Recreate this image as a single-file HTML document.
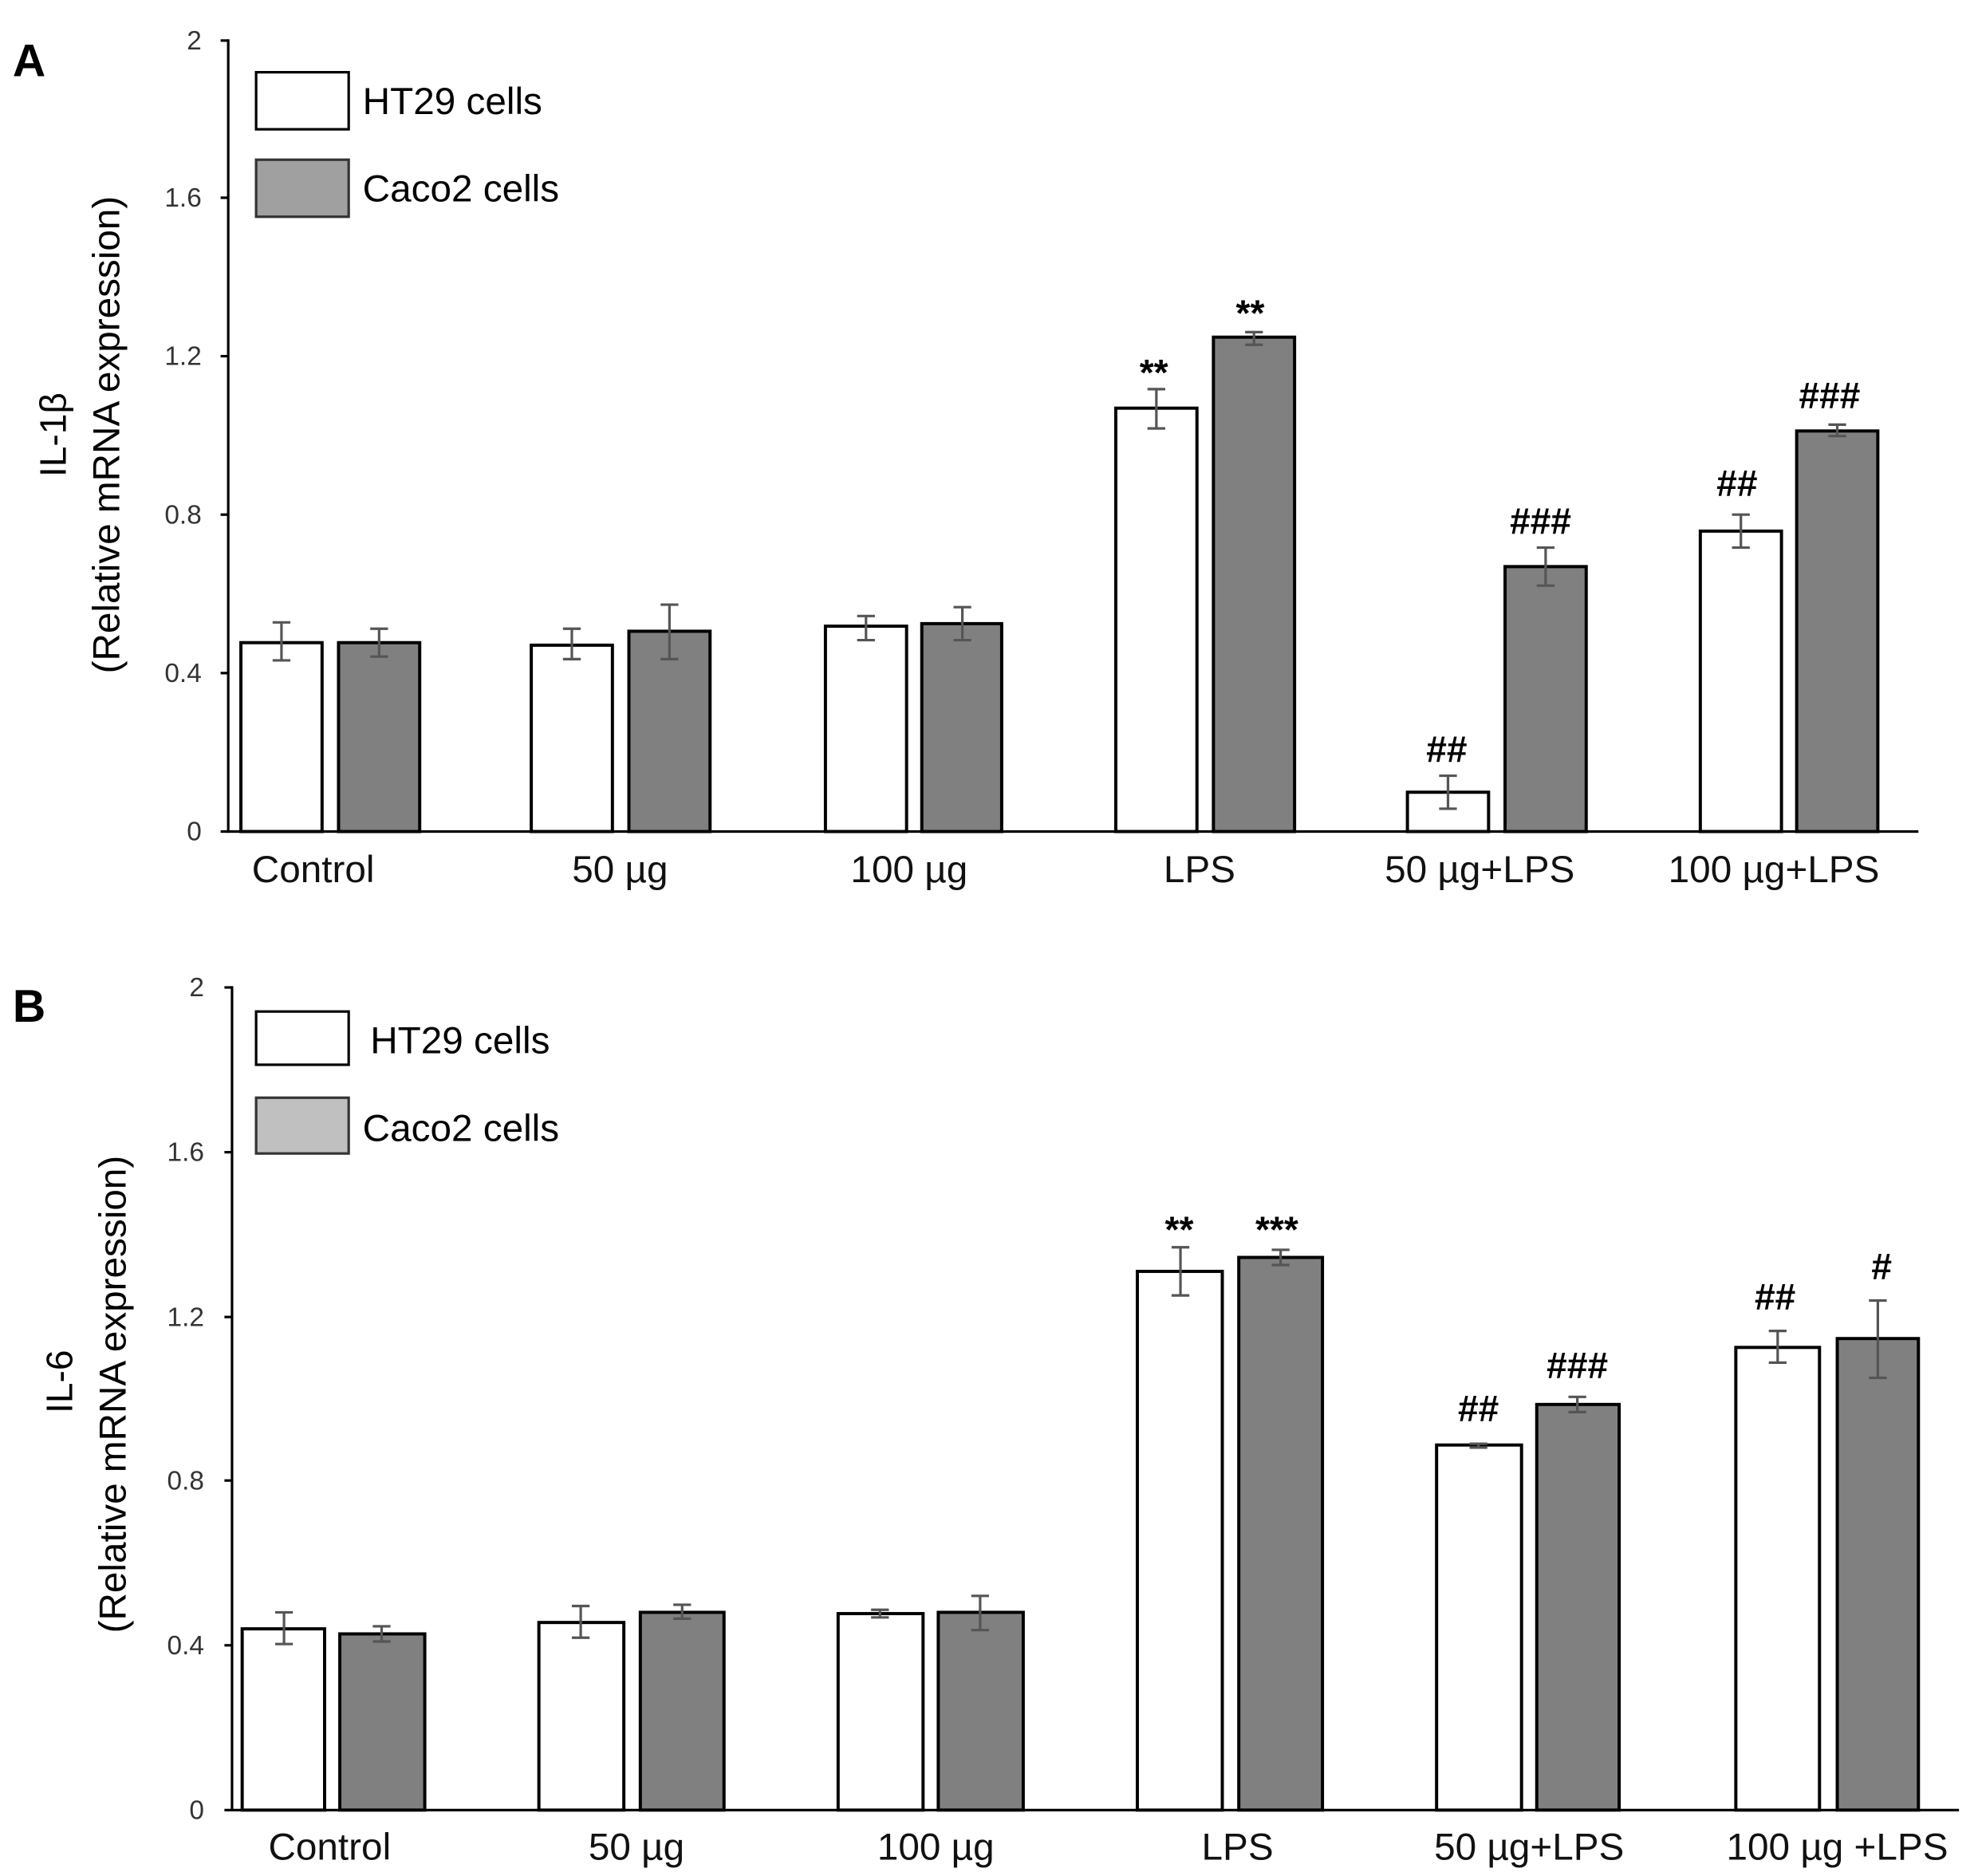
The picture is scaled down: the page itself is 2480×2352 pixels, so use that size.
<!DOCTYPE html>
<html><head><meta charset="utf-8"><style>
html,body{margin:0;padding:0;background:#fff;}
svg{display:block;}
text{font-family:"Liberation Sans","DejaVu Sans",sans-serif;}
</style></head><body>
<svg width="2480" height="2352" viewBox="0 0 1560 1480" preserveAspectRatio="none" xmlns="http://www.w3.org/2000/svg">
<rect width="1560" height="1480" fill="#fff"/>
<!-- ===== Panel A ===== -->
<text x="10" y="60" font-size="36" font-weight="bold">A</text>
<g stroke="#000" stroke-width="2">
<line x1="180" y1="31" x2="180" y2="657"/>
<line x1="174" y1="656" x2="1513" y2="656"/>
<line x1="174" y1="32" x2="180" y2="32"/><line x1="174" y1="156" x2="180" y2="156"/>
<line x1="174" y1="281" x2="180" y2="281"/><line x1="174" y1="406" x2="180" y2="406"/>
<line x1="174" y1="531" x2="180" y2="531"/>
</g>
<g font-size="21" fill="#333" text-anchor="end">
<text x="159" y="39">2</text><text x="159" y="163">1.6</text><text x="159" y="288">1.2</text>
<text x="159" y="413">0.8</text><text x="159" y="538">0.4</text><text x="159" y="663">0</text>
</g>
<text transform="translate(52,343) rotate(-90)" font-size="29" text-anchor="middle">IL-1β</text>
<text transform="translate(94,343) rotate(-90)" font-size="30" text-anchor="middle">(Relative mRNA expression)</text>
<rect x="202" y="57" width="73" height="45" fill="#fff" stroke="#000" stroke-width="2"/>
<rect x="202" y="126" width="73" height="45" fill="#a0a0a0" stroke="#333" stroke-width="2"/>
<text x="286" y="90" font-size="30">HT29 cells</text>
<text x="286" y="159" font-size="30">Caco2 cells</text>
<g stroke="#000" stroke-width="2.5">
<rect x="190" y="507" width="64" height="149" fill="#fff"/><rect x="267" y="507" width="64" height="149" fill="#808080"/>
<rect x="419" y="509" width="64" height="147" fill="#fff"/><rect x="496" y="498" width="64" height="158" fill="#808080"/>
<rect x="651" y="494" width="64" height="162" fill="#fff"/><rect x="727" y="492" width="63" height="164" fill="#808080"/>
<rect x="880" y="322" width="64" height="334" fill="#fff"/><rect x="957" y="266" width="64" height="390" fill="#808080"/>
<rect x="1110" y="625" width="64" height="31" fill="#fff"/><rect x="1187" y="447" width="64" height="209" fill="#808080"/>
<rect x="1341" y="419" width="64" height="237" fill="#fff"/><rect x="1417" y="340" width="64" height="316" fill="#808080"/>
</g>
<g stroke="#555" stroke-width="2" fill="none">
<path d="M222 491V521M215 491H229M215 521H229"/>
<path d="M299 496V518M292 496H306M292 518H306"/>
<path d="M451 496V520M444 496H458M444 520H458"/>
<path d="M528 477V520M521 477H535M521 520H535"/>
<path d="M683 486V505M676 486H690M676 505H690"/>
<path d="M759 479V505M752 479H766M752 505H766"/>
<path d="M912 307V338M905 307H919M905 338H919"/>
<path d="M989 262V272M982 262H996M982 272H996"/>
<path d="M1142 612V638M1135 612H1149M1135 638H1149"/>
<path d="M1219 432V462M1212 432H1226M1212 462H1226"/>
<path d="M1373 406V432M1366 406H1380M1366 432H1380"/>
<path d="M1449 335V344M1442 335H1456M1442 344H1456"/>
</g>
<g font-size="29" font-weight="bold" text-anchor="middle">
<text x="910" y="304">**</text><text x="986" y="257">**</text>
<text x="1141" y="601">##</text><text x="1215" y="421">###</text>
<text x="1370" y="391">##</text><text x="1443" y="322">###</text>
</g>
<g font-size="30" text-anchor="middle" fill="#111">
<text x="247" y="696">Control</text><text x="489" y="696">50 µg</text><text x="717" y="696">100 µg</text>
<text x="946" y="696">LPS</text><text x="1167" y="696">50 µg+LPS</text><text x="1399" y="696">100 µg+LPS</text>
</g>
<!-- ===== Panel B ===== -->
<text x="10" y="806" font-size="36" font-weight="bold">B</text>
<g stroke="#000" stroke-width="2">
<line x1="183" y1="778" x2="183" y2="1429"/>
<line x1="177" y1="1428" x2="1545" y2="1428"/>
<line x1="177" y1="779" x2="183" y2="779"/><line x1="177" y1="909" x2="183" y2="909"/>
<line x1="177" y1="1039" x2="183" y2="1039"/><line x1="177" y1="1168" x2="183" y2="1168"/>
<line x1="177" y1="1298" x2="183" y2="1298"/>
</g>
<g font-size="21" fill="#333" text-anchor="end">
<text x="161" y="786">2</text><text x="161" y="916">1.6</text><text x="161" y="1046">1.2</text>
<text x="161" y="1175">0.8</text><text x="161" y="1305">0.4</text><text x="161" y="1435">0</text>
</g>
<text transform="translate(57,1090) rotate(-90)" font-size="29" text-anchor="middle">IL-6</text>
<text transform="translate(99,1100) rotate(-90)" font-size="30" text-anchor="middle">(Relative mRNA expression)</text>
<rect x="202" y="798" width="73" height="42" fill="#fff" stroke="#000" stroke-width="2"/>
<rect x="202" y="866" width="73" height="44" fill="#c0c0c0" stroke="#333" stroke-width="2"/>
<text x="292" y="831" font-size="30">HT29 cells</text>
<text x="286" y="900" font-size="30">Caco2 cells</text>
<g stroke="#000" stroke-width="2.5">
<rect x="191" y="1285" width="65" height="143" fill="#fff"/><rect x="268" y="1289" width="67" height="139" fill="#808080"/>
<rect x="425" y="1280" width="67" height="148" fill="#fff"/><rect x="505" y="1272" width="66" height="156" fill="#808080"/>
<rect x="661" y="1273" width="67" height="155" fill="#fff"/><rect x="740" y="1272" width="67" height="156" fill="#808080"/>
<rect x="897" y="1003" width="67" height="425" fill="#fff"/><rect x="977" y="992" width="66" height="436" fill="#808080"/>
<rect x="1133" y="1140" width="67" height="288" fill="#fff"/><rect x="1212" y="1108" width="65" height="320" fill="#808080"/>
<rect x="1369" y="1063" width="66" height="365" fill="#fff"/><rect x="1449" y="1056" width="64" height="372" fill="#808080"/>
</g>
<g stroke="#555" stroke-width="2" fill="none">
<path d="M224 1272V1297M217 1272H231M217 1297H231"/>
<path d="M301 1283V1295M294 1283H308M294 1295H308"/>
<path d="M458 1267V1292M451 1267H465M451 1292H465"/>
<path d="M538 1266V1277M531 1266H545M531 1277H545"/>
<path d="M694 1270V1276M687 1270H701M687 1276H701"/>
<path d="M773 1259V1286M766 1259H780M766 1286H780"/>
<path d="M931 984V1022M924 984H938M924 1022H938"/>
<path d="M1010 986V998M1003 986H1017M1003 998H1017"/>
<path d="M1166 1139V1142M1159 1139H1173M1159 1142H1173"/>
<path d="M1244 1102V1114M1237 1102H1251M1237 1114H1251"/>
<path d="M1402 1050V1075M1395 1050H1409M1395 1075H1409"/>
<path d="M1481 1026V1087M1474 1026H1488M1474 1087H1488"/>
</g>
<g font-size="29" font-weight="bold" text-anchor="middle">
<text x="930" y="980">**</text><text x="1007" y="980">***</text>
<text x="1166" y="1121">##</text><text x="1244" y="1087">###</text>
<text x="1400" y="1033">##</text><text x="1484" y="1009">#</text>
</g>
<g font-size="30" text-anchor="middle" fill="#111">
<text x="260" y="1467">Control</text><text x="502" y="1467">50 µg</text><text x="738" y="1467">100 µg</text>
<text x="976" y="1467">LPS</text><text x="1206" y="1467">50 µg+LPS</text><text x="1449" y="1467">100 µg +LPS</text>
</g>
</svg>
</body></html>
